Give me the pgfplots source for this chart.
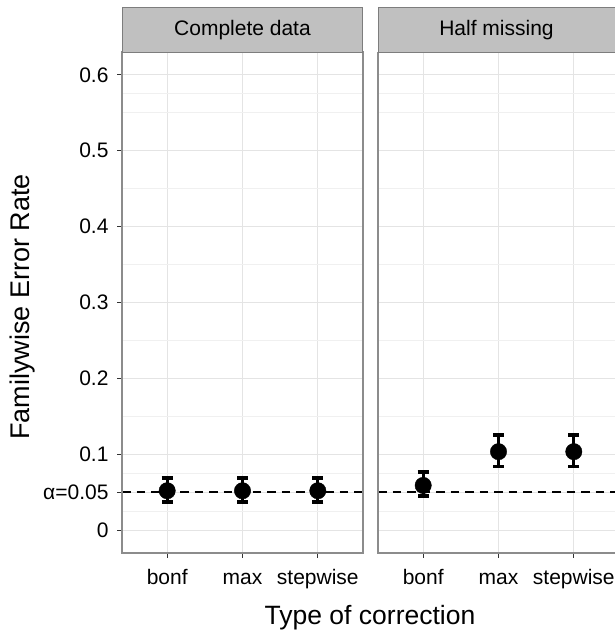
\documentclass[border=0pt]{standalone}
\usepackage{fontspec}
\setmainfont{Liberation Sans}
\usepackage{pgfplots}
\pgfplotsset{compat=1.18}
\definecolor{stripfill}{RGB}{192,192,192}
\definecolor{stripdraw}{RGB}{125,125,125}
\definecolor{bordercol}{RGB}{140,140,140}
\definecolor{gridmaj}{RGB}{228,228,228}
\definecolor{gridmin}{RGB}{240,240,240}
\begin{document}
\begin{tikzpicture}[x=1pt,y=1pt]
\useasboundingbox (0pt,0pt) rectangle (615pt,635pt);
\pgfplotsset{
  panel/.style={
    scale only axis, height=501pt,
    anchor=south west,
    ymin=-0.03, ymax=0.63, xmin=0.4,
    clip=false,
    axis line style={draw=none},
    ytick={0,0.05,0.1,0.2,0.3,0.4,0.5,0.6},
    minor ytick={0.025,0.075,0.15,0.25,0.35,0.45,0.55,0.575},
    xtick={1,2,3},
    xticklabels={bonf,max,stepwise},
    grid=both,
    major grid style={gridmaj, line width=1.1pt},
    minor grid style={gridmin, line width=0.6pt},
    minor tick length=0pt,
    major tick length=5pt,
    tick align=outside,
    xtick pos=bottom, ytick pos=left,
    tick style={black!80, line width=1pt},
    /pgf/number format/assume math mode=true,
    ticklabel style={font=\fontsize{21}{25}\selectfont},
    xticklabel style={yshift=-8pt, text height=15pt, text depth=4pt},
  },
  errs/.style={only marks, black, mark=*, mark size=8.2pt,
    error bars/.cd, y dir=both, y explicit,
    error bar style={line width=3pt},
    error mark options={rotate=90, line width=3.8pt, mark size=5.5pt}},
  hline/.style={black, line width=2.2pt, dash pattern=on 8.5pt off 6pt, forget plot},
}
% ---- Left panel: Complete data
\begin{axis}[panel, at={(122pt,82pt)}, width=241pt, xmax=3.6,
  yticklabels={0,α=0.05,0.1,0.2,0.3,0.4,0.5,0.6},
  yticklabel style={xshift=-5pt}]
\addplot[hline] coordinates {(0.4,0.05) (3.6,0.05)};
\addplot[errs] coordinates {
  (1,0.052) += (0,0.017) -= (0,0.015)
  (2,0.052) += (0,0.017) -= (0,0.015)
  (3,0.052) += (0,0.017) -= (0,0.015)
};
\draw[bordercol, line width=1.4pt] (rel axis cs:0,0) rectangle (rel axis cs:1,1);
\draw[fill=stripfill, draw=stripdraw, line width=1pt] (rel axis cs:0,1) rectangle (rel axis cs:1,1.0888);
\node[font=\fontsize{21}{25}\selectfont] at (rel axis cs:0.5,1.0444) {Complete data};
\end{axis}
% ---- Right panel: Half missing
\begin{axis}[panel, at={(378pt,82pt)}, width=237pt, xmax=3.547,
  yticklabels={}, ytick style={draw=none}]
\addplot[hline] coordinates {(0.4,0.05) (3.547,0.05)};
\addplot[errs] coordinates {
  (1,0.059) += (0,0.018) -= (0,0.014)
  (2,0.1035) += (0,0.0215) -= (0,0.0195)
  (3,0.1035) += (0,0.0215) -= (0,0.0195)
};
\draw[bordercol, line width=1.4pt] (rel axis cs:1.01,0) -- (rel axis cs:0,0) -- (rel axis cs:0,1);
\fill[stripfill] (rel axis cs:0,1) rectangle (rel axis cs:1.01,1.0888);
\draw[stripdraw, line width=1pt] (rel axis cs:1.01,1) -- (rel axis cs:0,1) -- (rel axis cs:0,1.0888) -- (rel axis cs:1.01,1.0888);
\node[font=\fontsize{21}{25}\selectfont] at (rel axis cs:0.5,1.0444) {Half missing};
\end{axis}
\node[rotate=90, anchor=base, font=\fontsize{27}{32}\selectfont] at (29pt,328pt) {Familywise Error Rate};
\node[anchor=base, font=\fontsize{26.5}{32}\selectfont] at (370pt,10pt) {Type of correction};
\end{tikzpicture}
\end{document}
